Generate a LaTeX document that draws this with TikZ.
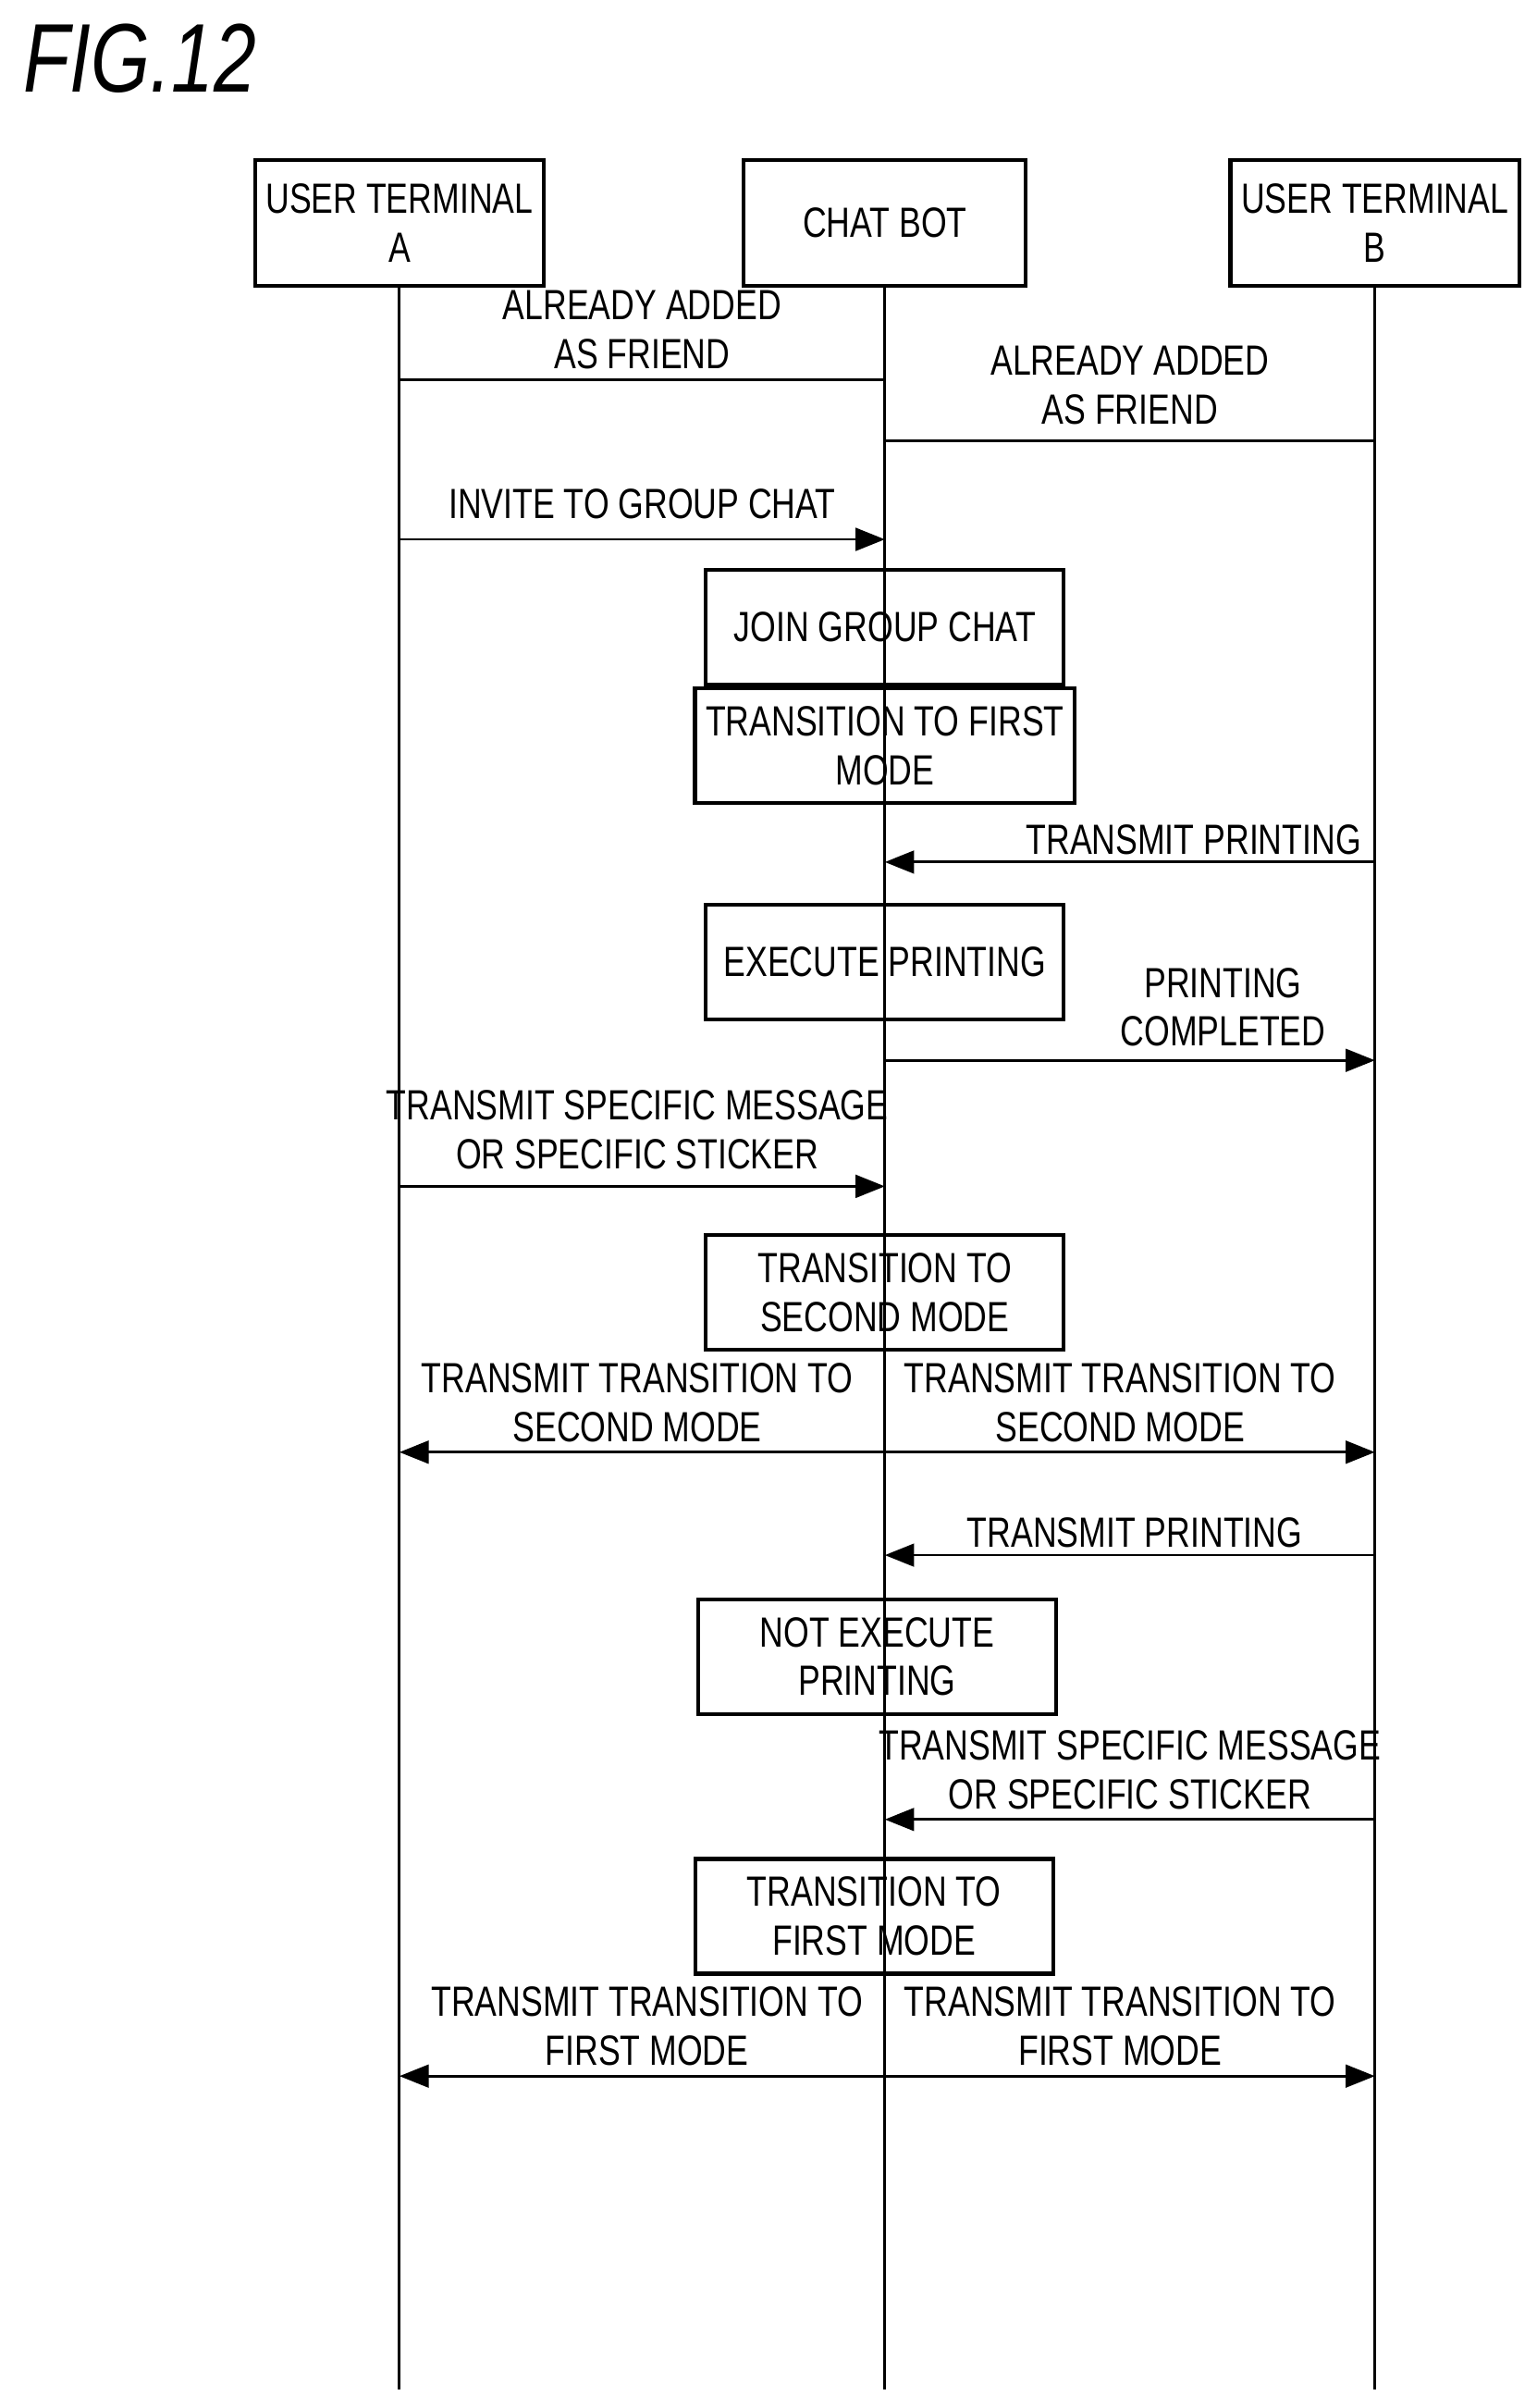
\documentclass[tikz,border=0pt]{standalone}
\usepackage{fontspec}
\setmainfont{Liberation Sans}[FakeStretch=0.78]
\usetikzlibrary{arrows.meta,positioning,calc}
\begin{document}
\begin{tikzpicture}[x=0.1661mm,y=-0.1661mm,
	head/.style={draw,line width=1.2pt,minimum width=30.5mm,minimum height=13.6mm,align=center,font=\fontsize{13}{15}\selectfont},
	act/.style={draw,line width=1.2pt,minimum width=38.7mm,minimum height=12.4mm,align=center,font=\fontsize{13}{15}\selectfont},
	lbl/.style={align=center,font=\fontsize{13}{15}\selectfont,inner sep=1pt},
	msg/.style={line width=0.8pt,-{Triangle[length=9pt,width=7pt]}},
	both/.style={line width=0.8pt,{Triangle[length=9pt,width=7pt]}-{Triangle[length=9pt,width=7pt]}},
	life/.style={line width=0.8pt}]
	\useasboundingbox (0,0) rectangle (1000,1567);
	\node (fig) [anchor=north west,font=\fontsize{30}{34}\selectfont\itshape] at (8,8) {FIG.12};
	% lifeline heads
	\node (A) [head] at (260,145) {USER TERMINAL\\A};
	\node (C) [head] at (576,145) {CHAT BOT};
	\node (B) [head] at (895,145) {USER TERMINAL\\B};
	\coordinate (Aend) at (260,1555);
	\coordinate (Cend) at (576,1555);
	\coordinate (Bend) at (895,1555);
	\draw[life] (A) -- (Aend);
	\draw[life] (C) -- (Cend);
	\draw[life] (B) -- (Bend);
	% points on the lifelines
	\foreach \n/\y in {1/247,2/287,3/351,4/561,5/690,6/772,7/945,8/1012,9/1184,10/1351} {
		\coordinate (a\n) at (260,\y);
		\coordinate (c\n) at (576,\y);
		\coordinate (b\n) at (895,\y);
	}
	% activities
	\node (join) [act] at (576,408) {JOIN GROUP CHAT};
	\node (first) [act,below=0pt of join] {TRANSITION TO FIRST\\MODE};
	\node (exec) [act] at (576,626) {EXECUTE PRINTING};
	\node (second) [act] at (576,841) {TRANSITION TO\\SECOND MODE};
	\node (notexec) [act] at (571,1078) {NOT EXECUTE\\PRINTING};
	\node (back) [act] at (569,1247) {TRANSITION TO\\FIRST MODE};
	% messages
	\draw[life] (a1) -- (c1);
	\node (l1) [lbl,above=2pt of $(a1)!0.5!(c1)$] {ALREADY ADDED\\AS FRIEND};
	\draw[life] (c2) -- (b2);
	\node (l2) [lbl,above=4pt of $(c2)!0.5!(b2)$] {ALREADY ADDED\\AS FRIEND};
	\draw[msg] (a3) -- (c3);
	\node (l3) [lbl,above=5pt of $(a3)!0.5!(c3)$] {INVITE TO GROUP CHAT};
	\draw[msg] (b4) -- (c4);
	\node (l4) [lbl,above=1pt of $(c4)!0.63!(b4)$] {TRANSMIT PRINTING};
	\draw[msg] (c5) -- (b5);
	\node (l5) [lbl,above=3pt of $(c5)!0.69!(b5)$] {PRINTING\\COMPLETED};
	\draw[msg] (a6) -- (c6);
	\node (l6) [lbl,above=4pt of $(a6)!0.49!(c6)$] {TRANSMIT SPECIFIC MESSAGE\\OR SPECIFIC STICKER};
	\draw[both] (a7) -- (b7);
	\node (l7a) [lbl,above=2pt of $(a7)!0.49!(c7)$] {TRANSMIT TRANSITION TO\\SECOND MODE};
	\node (l7b) [lbl,above=2pt of $(c7)!0.48!(b7)$] {TRANSMIT TRANSITION TO\\SECOND MODE};
	\draw[msg] (b8) -- (c8);
	\node (l8) [lbl,above=1pt of $(c8)!0.51!(b8)$] {TRANSMIT PRINTING};
	\draw[msg] (b9) -- (c9);
	\node (l9) [lbl,above=2pt of $(c9)!0.5!(b9)$] {TRANSMIT SPECIFIC MESSAGE\\OR SPECIFIC STICKER};
	\draw[both] (a10) -- (b10);
	\node (l10a) [lbl,above=2pt of $(a10)!0.51!(c10)$] {TRANSMIT TRANSITION TO\\FIRST MODE};
	\node (l10b) [lbl,above=2pt of $(c10)!0.48!(b10)$] {TRANSMIT TRANSITION TO\\FIRST MODE};
\end{tikzpicture}
\end{document}
